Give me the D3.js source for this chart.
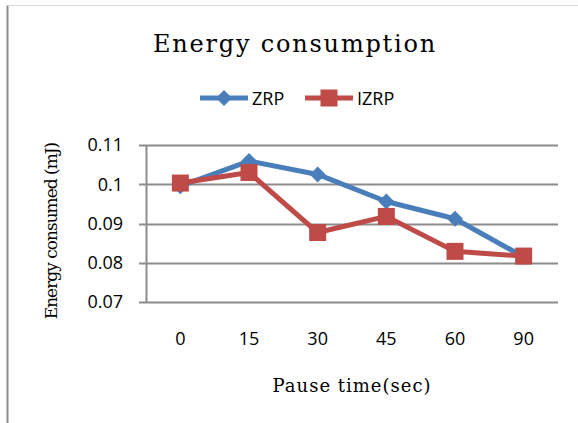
<!DOCTYPE html>
<html>
<head>
<meta charset="utf-8">
<script src="https://cdn.jsdelivr.net/npm/d3@7"></script>
<style>
    body { margin: 0; background: #fff; }
    #chart { width: 578px; height: 423px; }
</style>
</head>
<body>
<div id="chart"></div>
<script>
// Chart data
const pauseTimes = ["0", "15", "30", "45", "60", "90"];
const zrpValues = [0.0995, 0.1059, 0.1025, 0.0956, 0.0912, 0.0815];
const izrpValues = [0.1003, 0.1030, 0.0877, 0.0918, 0.0829, 0.0817];
const yTicks = [0.07, 0.08, 0.09, 0.1, 0.11];
const seriesNames = ["ZRP", "IZRP"];

const width = 578, height = 423;
const margin = {top: 145, right: 20, bottom: 121, left: 146};

const blue = "#4a7ebb", red = "#be4b48", gridColor = "#8c8c8c";
const serif = "'DejaVu Serif', serif";
const sans = "'Open Sans', 'Liberation Sans', sans-serif";

const svg = d3.select("#chart")
    .append("svg")
    .attr("width", width)
    .attr("height", height)
    .attr("viewBox", [0, 0, width, height]);

// Outer frame (only left and top visible in the picture)
svg.append("line")
    .attr("x1", 7.5).attr("x2", 7.5).attr("y1", 5).attr("y2", height)
    .attr("stroke", "#8c8c8c").attr("stroke-width", 2);
svg.append("line")
    .attr("x1", 7).attr("x2", width).attr("y1", 5.5).attr("y2", 5.5)
    .attr("stroke", "#d9d9d9").attr("stroke-width", 1);

const x = d3.scaleBand()
    .domain(pauseTimes)
    .range([margin.left, width - margin.right]);

const y = d3.scaleLinear()
    .domain([0.07, 0.11])
    .range([height - margin.bottom, margin.top]);

// Gridlines
svg.append("g")
    .selectAll("line")
    .data(yTicks)
    .join("line")
    .attr("x1", margin.left - 7)
    .attr("x2", width - margin.right)
    .attr("y1", d => Math.round(y(d)) + 0.5)
    .attr("y2", d => Math.round(y(d)) + 0.5)
    .attr("stroke", gridColor)
    .attr("stroke-width", 2);

// Y axis
const yAxis = svg.append("g")
    .attr("transform", `translate(${margin.left},0)`)
    .call(d3.axisLeft(y).tickValues(yTicks).tickFormat(d => String(+d.toFixed(2))).tickSize(0).tickPadding(23));
yAxis.select(".domain").attr("stroke", gridColor).attr("stroke-width", 2);
yAxis.selectAll("text")
    .attr("font-family", sans)
    .attr("font-size", 18)
    .attr("fill", "#000");

// X axis
const xAxis = svg.append("g")
    .attr("transform", `translate(0,${height - margin.bottom})`)
    .call(d3.axisBottom(x).tickSize(0).tickPadding(30));
xAxis.select(".domain").remove();
xAxis.selectAll("text")
    .attr("font-family", sans)
    .attr("font-size", 18)
    .attr("fill", "#000");

const cx = d => x(d) + x.bandwidth() / 2;

const line = d3.line()
    .x((d, i) => cx(pauseTimes[i]))
    .y(d => y(d));

// ZRP series
svg.append("path")
    .datum(zrpValues)
    .attr("fill", "none")
    .attr("stroke", blue)
    .attr("stroke-width", 5)
    .attr("stroke-linejoin", "round")
    .attr("d", line);

const diamond = s => `M0,${-s}L${s},0L0,${s}L${-s},0Z`;

svg.append("g")
    .selectAll("path")
    .data(zrpValues)
    .join("path")
    .attr("transform", (d, i) => `translate(${cx(pauseTimes[i])},${y(d)})`)
    .attr("d", diamond(8))
    .attr("fill", blue);

// IZRP series
svg.append("path")
    .datum(izrpValues)
    .attr("fill", "none")
    .attr("stroke", red)
    .attr("stroke-width", 5)
    .attr("stroke-linejoin", "round")
    .attr("d", line);

svg.append("g")
    .selectAll("rect")
    .data(izrpValues)
    .join("rect")
    .attr("x", (d, i) => cx(pauseTimes[i]) - 8.5)
    .attr("y", d => y(d) - 8.5)
    .attr("width", 17)
    .attr("height", 17)
    .attr("fill", red);

// Title
svg.append("text")
    .attr("x", 295)
    .attr("y", 52)
    .attr("text-anchor", "middle")
    .attr("font-family", serif)
    .attr("font-size", 24)
    .attr("letter-spacing", 1.8)
    .text("Energy consumption");

// Legend
const legend = svg.append("g").attr("transform", "translate(0,98)");
const legendItems = [
    {name: seriesNames[0], color: blue, x0: 200, marker: "diamond"},
    {name: seriesNames[1], color: red, x0: 305, marker: "square"}
];
legendItems.forEach(item => {
    legend.append("line")
        .attr("x1", item.x0).attr("x2", item.x0 + 48)
        .attr("stroke", item.color).attr("stroke-width", 5);
    if (item.marker === "diamond") {
        legend.append("path")
            .attr("transform", `translate(${item.x0 + 24},0)`)
            .attr("d", diamond(8))
            .attr("fill", item.color);
    } else {
        legend.append("rect")
            .attr("x", item.x0 + 24 - 8.5).attr("y", -8.5)
            .attr("width", 17).attr("height", 17)
            .attr("fill", item.color);
    }
    legend.append("text")
        .attr("x", item.x0 + 52)
        .attr("y", 6.5)
        .attr("font-family", sans)
        .attr("font-size", 18)
        .text(item.name);
});

// Axis titles
svg.append("text")
    .attr("transform", "translate(57,231) rotate(-90)")
    .attr("text-anchor", "middle")
    .attr("font-family", serif)
    .attr("font-size", 17)
    .attr("letter-spacing", -1)
    .text("Energy consumed (mJ)");

svg.append("text")
    .attr("x", 352)
    .attr("y", 392)
    .attr("text-anchor", "middle")
    .attr("font-family", serif)
    .attr("font-size", 18)
    .attr("letter-spacing", 1)
    .text("Pause time(sec)");
</script>
</body>
</html>
